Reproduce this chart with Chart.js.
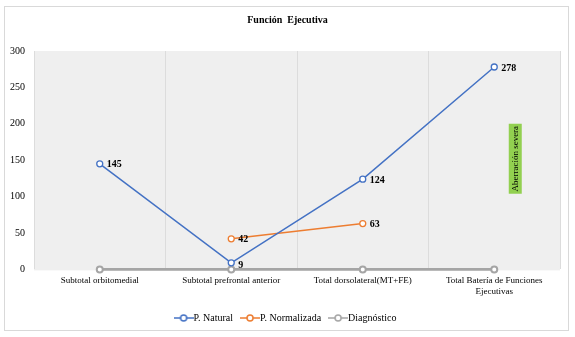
<!DOCTYPE html>
<html>
<head>
<meta charset="utf-8">
<script src="https://cdn.jsdelivr.net/npm/chart.js@4/dist/chart.umd.min.js"></script>
<style>
  body { margin: 0; background: #fff; }
  #wrap { width: 575px; height: 337px; }
</style>
</head>
<body>
<div id="wrap"><canvas id="chart" width="575" height="337"></canvas></div>
<script>
const categories = [
  "Subtotal orbitomedial",
  "Subtotal prefrontal anterior",
  "Total dorsolateral(MT+FE)",
  ["Total Batería de Funciones", "Ejecutivas"]
];
const natural = [145, 9, 124, 278];
const normalizada = [null, 42, 63, null];
const diagnostico = [0, 0, 0, 0];
const yTicks = [0, 50, 100, 150, 200, 250, 300];

const serif = "'Liberation Serif', 'Times New Roman', serif";

// small line+circle icon for the legend, like Excel
function legendIcon(color) {
  const c = document.createElement('canvas');
  c.width = 20; c.height = 8;
  const g = c.getContext('2d');
  g.strokeStyle = color;
  g.lineWidth = 1.5;
  g.beginPath(); g.moveTo(0, 4); g.lineTo(20, 4); g.stroke();
  g.fillStyle = '#fff';
  g.beginPath(); g.arc(10, 4, 3, 0, Math.PI * 2); g.fill(); g.stroke();
  return c;
}

const decor = {
  id: 'decor',
  beforeDraw(chart) {
    const ctx = chart.ctx;
    const a = chart.chartArea;
    ctx.save();
    ctx.fillStyle = '#fff';
    ctx.fillRect(0, 0, chart.width, chart.height);
    ctx.strokeStyle = '#d9d9d9';
    ctx.lineWidth = 1;
    ctx.strokeRect(4.5, 6.5, 564, 324);
    ctx.fillStyle = '#efefef';
    ctx.fillRect(a.left, a.top, a.right - a.left, a.bottom - a.top + 1);
    ctx.restore();
  },
  afterDatasetsDraw(chart) {
    const ctx = chart.ctx;
    ctx.save();
    ctx.font = "bold 10px " + serif;
    ctx.fillStyle = '#000';
    ctx.textBaseline = 'middle';
    ctx.textAlign = 'left';
    [0, 1].forEach(di => {
      const meta = chart.getDatasetMeta(di);
      const data = chart.data.datasets[di].data;
      meta.data.forEach((pt, i) => {
        if (data[i] == null) return;
        const dy = data[i] < 20 ? 3 : 1;
        ctx.fillText(String(data[i]), pt.x + 7, pt.y + dy);
      });
    });
    // "Aberración severa" tag
    const x = chart.scales.x.getPixelForValue(3) + 21;
    const y = chart.scales.y.getPixelForValue(152);
    ctx.translate(x, y);
    ctx.rotate(-Math.PI / 2);
    ctx.fillStyle = '#92d050';
    ctx.fillRect(-35, -6.5, 70, 13);
    ctx.fillStyle = '#000';
    ctx.font = "9px " + serif;
    ctx.textAlign = 'center';
    ctx.fillText('Aberración severa', 0, 0.5);
    ctx.restore();
  }
};

new Chart(document.getElementById('chart'), {
  type: 'line',
  data: {
    labels: categories,
    datasets: [
      {
        label: 'P. Natural', data: natural, clip: 5,
        borderColor: '#4472c4', backgroundColor: '#fff', borderWidth: 1.5,
        pointRadius: 3, pointBorderWidth: 1.3, pointStyle: 'circle'
      },
      {
        label: 'P. Normalizada', data: normalizada, clip: 5,
        borderColor: '#ed7d31', backgroundColor: '#fff', borderWidth: 1.5,
        pointRadius: 3, pointBorderWidth: 1.3
      },
      {
        label: 'Diagnóstico', data: diagnostico, clip: 5,
        borderColor: '#a5a5a5', backgroundColor: '#fff', borderWidth: 2.8,
        pointRadius: 3, pointBorderWidth: 2
      }
    ]
  },
  options: {
    responsive: false,
    animation: false,
    layout: { padding: { left: 0, right: 0, top: 0, bottom: 4 } },
    plugins: {
      title: {
        display: true, text: 'Función  Ejecutiva', color: '#000',
        font: { family: serif, size: 10, weight: 'bold' },
        padding: { top: 14, bottom: 25 }
      },
      legend: {
        position: 'bottom',
        labels: {
          color: '#000', font: { family: serif, size: 10 },
          usePointStyle: true, boxWidth: 20, boxHeight: 8, padding: 12,
          generateLabels(chart) {
            return chart.data.datasets.map((ds, i) => ({
              text: ds.label, fontColor: '#000',
              pointStyle: legendIcon(ds.borderColor),
              datasetIndex: i, hidden: false, lineWidth: 0
            }));
          }
        }
      },
      tooltip: { enabled: false }
    },
    scales: {
      x: {
        offset: true,
        afterFit(scale) { scale.height -= 2; },
        grid: { display: true, offset: true, color: '#dcdcdc', drawTicks: false },
        border: { display: false },
        ticks: { color: '#000', font: { family: serif, size: 9 }, padding: 6, maxRotation: 0, autoSkip: false }
      },
      y: {
        min: 0, max: 300,
        afterBuildTicks(scale) { scale.ticks = yTicks.map(v => ({ value: v })); },
        afterFit(scale) { scale.width = 34; },
        grid: { display: false, drawTicks: false },
        border: { display: false },
        ticks: { color: '#000', font: { family: serif, size: 10 }, padding: 9 }
      },
      // empty right strip so the plot ends where the reference does
      yRight: {
        position: 'right',
        afterFit(scale) { scale.width = 15; },
        grid: { display: false, drawTicks: false },
        border: { display: false },
        ticks: { display: false }
      }
    }
  },
  plugins: [decor]
});
</script>
</body>
</html>
